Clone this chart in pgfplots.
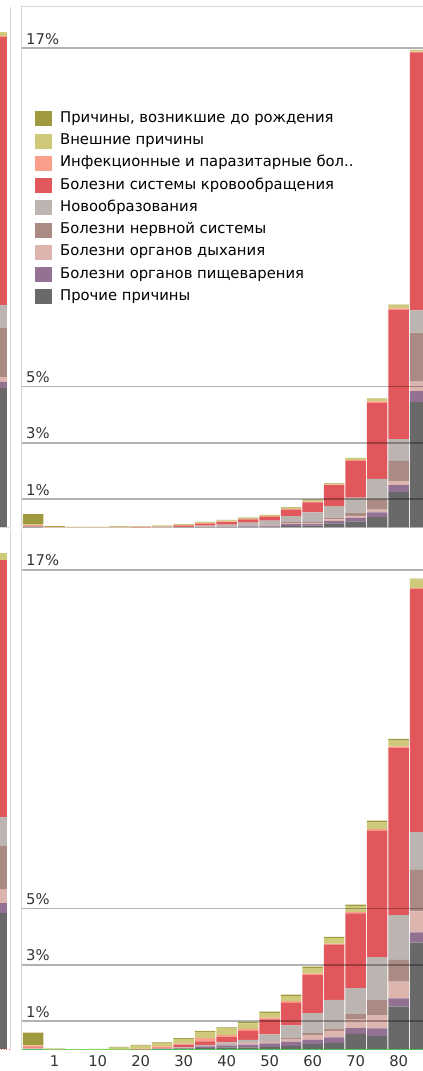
\documentclass[border=0pt]{standalone}
\usepackage{fontspec}
\setmainfont{DejaVu Sans}
\usepackage{pgfplots}
\pgfplotsset{compat=1.18}
\usepackage{pgfplotstable}

\definecolor{cOlive}{HTML}{9F9A3F}
\definecolor{cKhaki}{HTML}{CFCA7A}
\definecolor{cSalmon}{HTML}{F8A08C}
\definecolor{cRed}{HTML}{E2575B}
\definecolor{cGray}{HTML}{BBB4B1}
\definecolor{cBrown}{HTML}{AA8A83}
\definecolor{cPink}{HTML}{DEB4AE}
\definecolor{cPurple}{HTML}{927192}
\definecolor{cDark}{HTML}{696969}
\definecolor{cBorder}{HTML}{D6D6D6}
\definecolor{cText}{HTML}{333333}
\definecolor{cGreen}{HTML}{44EE44}

\newcommand\lf{\fontsize{14.8pt}{17pt}\selectfont}

\pgfplotstableread{
x dark purple pink brown gray red salmon khaki olive
0 0.02 0.00 0.00 0.00 0.01 0.02 0.04 0.02 0.36
1 0.00 0.00 0.00 0.00 0.00 0.00 0.01 0.01 0.03
2 0.00 0.00 0.00 0.00 0.00 0.00 0.005 0.005 0.01
3 0.00 0.00 0.00 0.00 0.00 0.00 0.005 0.005 0.01
4 0.00 0.00 0.00 0.00 0.00 0.00 0.01 0.02 0.02
5 0.00 0.00 0.00 0.00 0.00 0.01 0.01 0.02 0.01
6 0.00 0.00 0.00 0.00 0.01 0.01 0.01 0.02 0.02
7 0.01 0.00 0.00 0.00 0.01 0.04 0.02 0.02 0.02
8 0.01 0.01 0.01 0.00 0.04 0.06 0.03 0.02 0.02
9 0.01 0.01 0.01 0.01 0.06 0.09 0.03 0.03 0.02
10 0.02 0.02 0.01 0.02 0.10 0.12 0.02 0.03 0.01
11 0.03 0.03 0.02 0.02 0.14 0.14 0.02 0.04 0.01
12 0.06 0.06 0.035 0.035 0.21 0.23 0.02 0.05 0.01
13 0.07 0.05 0.03 0.04 0.35 0.35 0.03 0.07 0.01
14 0.15 0.08 0.06 0.06 0.41 0.74 0.02 0.04 0.01
15 0.22 0.12 0.05 0.14 0.53 1.30 0.03 0.07 0.01
16 0.37 0.17 0.09 0.38 0.71 2.70 0.05 0.10 0.01
17 1.26 0.24 0.15 0.71 0.77 4.59 0.05 0.12 0.01
18 4.45 0.39 0.33 1.74 0.79 9.15 0.03 0.05 0.01
}\toptable

\pgfplotstableread{
x dark purple pink brown gray red salmon khaki olive
0 0.01 0.00 0.01 0.00 0.01 0.04 0.06 0.02 0.44
1 0.00 0.00 0.00 0.00 0.00 0.00 0.005 0.01 0.01
2 0.00 0.00 0.00 0.00 0.00 0.00 0.00 0.005 0.005
3 0.00 0.00 0.00 0.00 0.00 0.00 0.00 0.005 0.01
4 0.00 0.00 0.00 0.00 0.00 0.00 0.01 0.05 0.03
5 0.00 0.00 0.00 0.00 0.00 0.01 0.02 0.10 0.03
6 0.01 0.01 0.00 0.00 0.01 0.02 0.05 0.12 0.03
7 0.02 0.03 0.01 0.00 0.02 0.09 0.03 0.17 0.03
8 0.05 0.05 0.02 0.00 0.04 0.12 0.12 0.22 0.03
9 0.07 0.07 0.03 0.01 0.07 0.18 0.08 0.24 0.03
10 0.07 0.10 0.06 0.01 0.09 0.32 0.07 0.20 0.05
11 0.09 0.12 0.06 0.02 0.24 0.53 0.06 0.17 0.05
12 0.12 0.15 0.09 0.05 0.44 0.80 0.06 0.18 0.05
13 0.19 0.14 0.17 0.07 0.71 1.35 0.06 0.19 0.05
14 0.23 0.19 0.23 0.08 1.02 1.95 0.05 0.19 0.05
15 0.55 0.20 0.32 0.18 0.92 2.65 0.05 0.21 0.05
16 0.47 0.27 0.47 0.53 1.53 4.48 0.06 0.25 0.05
17 1.51 0.30 0.59 0.77 1.59 5.93 0.05 0.21 0.06
18 3.78 0.37 0.74 1.47 1.34 8.62 0.04 0.31 0.02
}\bottable

\pgfplotsset{
  sq/.style={draw=none, fill=#1,
    legend image code/.code={\fill[#1] (0pt,-7.5pt) rectangle (17pt,7.5pt);}},
  panel/.style={
    scale only axis, width=420pt, height=520.5pt,
    xmin=-0.544, xmax=18.991, ymin=0, ymax=18.46,
    ybar stacked, bar width=20.5pt,
    axis line style={draw=none},
    ytick={1,3,5,17}, ymajorgrids,
    grid style={black, opacity=0.3, line width=1.6pt},
    axis on top, major tick length=0pt, clip=false,
    /pgf/number format/assume math mode=true,
    yticklabel={\pgfmathprintnumber{\tick}\%},
    yticklabel style={anchor=base west, xshift=4.5pt, yshift=4pt, inner sep=0pt, text=cText, font=\lf},
  },
  strip/.style={
    scale only axis, width=40pt, height=520.5pt,
    xmin=-30, xmax=10, ymin=0, ymax=18.46,
    ybar stacked, bar width=21pt,
    axis line style={draw=none}, xtick=\empty, ytick=\empty, clip=false,
  },
}

\begin{document}
\begin{tikzpicture}
% ---------- top strip (previous panel, cut) ----------
\begin{axis}[strip, at={(-30pt,543.5pt)}, anchor=south west]
\addplot[sq=cDark] coordinates {(-4,4.95)};
\addplot[sq=cPurple] coordinates {(-4,0.21)};
\addplot[sq=cPink] coordinates {(-4,0.18)};
\addplot[sq=cBrown] coordinates {(-4,1.74)};
\addplot[sq=cGray] coordinates {(-4,0.82)};
\addplot[sq=cRed] coordinates {(-4,9.50)};
\addplot[sq=cSalmon] coordinates {(-4,0.02)};
\addplot[sq=cKhaki] coordinates {(-4,0.15)};
\addplot[sq=cOlive] coordinates {(-4,0.02)};
\draw[cBorder, line width=1pt] (rel axis cs:1,0) -- (rel axis cs:1,1);
\draw[cBorder, line width=1pt] (rel axis cs:0,0) -- (rel axis cs:1,0);
\end{axis}
% ---------- bottom strip ----------
\begin{axis}[strip, at={(-30pt,21.7pt)}, anchor=south west]
\addplot[sq=cDark] coordinates {(-4,4.83)};
\addplot[sq=cPurple] coordinates {(-4,0.35)};
\addplot[sq=cPink] coordinates {(-4,0.50)};
\addplot[sq=cBrown] coordinates {(-4,1.52)};
\addplot[sq=cGray] coordinates {(-4,1.03)};
\addplot[sq=cRed] coordinates {(-4,9.11)};
\addplot[sq=cSalmon] coordinates {(-4,0.03)};
\addplot[sq=cKhaki] coordinates {(-4,0.22)};
\addplot[sq=cOlive] coordinates {(-4,0.02)};
\draw[cBorder, line width=1pt] (rel axis cs:1,0) -- (rel axis cs:1,1);
\draw[red!70, line width=0.8pt, dotted] (rel axis cs:0,0) -- (rel axis cs:1,0);
\end{axis}
% ---------- top main panel ----------
\begin{axis}[panel, at={(21.5pt,543.5pt)}, anchor=south west,
  xtick=\empty, reverse legend,
  legend style={draw=none, fill=none, at={(axis description cs:0.032,0.800)}, anchor=north west,
    font=\lf, text=black, inner sep=0pt, row sep=7.25pt, column sep=8pt,
    nodes={inner sep=0pt, text height=11pt, text depth=4pt}},
  legend cell align=left]
\addplot[sq=cDark] table[x=x, y=dark] {\toptable};
\addplot[sq=cPurple] table[x=x, y=purple] {\toptable};
\addplot[sq=cPink] table[x=x, y=pink] {\toptable};
\addplot[sq=cBrown] table[x=x, y=brown] {\toptable};
\addplot[sq=cGray] table[x=x, y=gray] {\toptable};
\addplot[sq=cRed] table[x=x, y=red] {\toptable};
\addplot[sq=cSalmon] table[x=x, y=salmon] {\toptable};
\addplot[sq=cKhaki] table[x=x, y=khaki] {\toptable};
\addplot[sq=cOlive] table[x=x, y=olive] {\toptable};
\legend{Прочие причины, Болезни органов пищеварения, Болезни органов дыхания, Болезни нервной системы, Новообразования, Болезни системы кровообращения, Инфекционные и паразитарные бол.., Внешние причины, {Причины, возникшие до рождения}}
\draw[cBorder, line width=1pt] (rel axis cs:0,0) -- (rel axis cs:0,1) -- (rel axis cs:1,1);
\draw[cBorder, line width=1pt] (rel axis cs:0,0) -- (rel axis cs:1,0);
\end{axis}
% ---------- bottom main panel ----------
\begin{axis}[panel, at={(21.5pt,21.7pt)}, anchor=south west,
  xtick={1,3,5,7,9,11,13,15,17}, xticklabels={1,10,20,30,40,50,60,70,80},
  xticklabel style={font=\lf, text=cText, yshift=-3pt}]
\addplot[sq=cDark] table[x=x, y=dark] {\bottable};
\addplot[sq=cPurple] table[x=x, y=purple] {\bottable};
\addplot[sq=cPink] table[x=x, y=pink] {\bottable};
\addplot[sq=cBrown] table[x=x, y=brown] {\bottable};
\addplot[sq=cGray] table[x=x, y=gray] {\bottable};
\addplot[sq=cRed] table[x=x, y=red] {\bottable};
\addplot[sq=cSalmon] table[x=x, y=salmon] {\bottable};
\addplot[sq=cKhaki] table[x=x, y=khaki] {\bottable};
\addplot[sq=cOlive] table[x=x, y=olive] {\bottable};
\draw[cBorder, line width=1pt] (rel axis cs:0,0) -- (rel axis cs:0,1);
\draw[cGreen, line width=1.3pt] (rel axis cs:0,0) -- (rel axis cs:1,0);
\end{axis}
\pgfresetboundingbox
\path[use as bounding box] (0pt,0pt) rectangle (423pt,1071pt);
\end{tikzpicture}
\end{document}
